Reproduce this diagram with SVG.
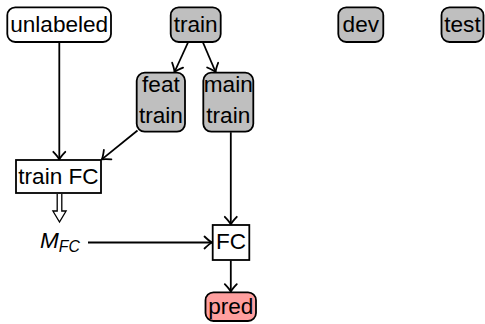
<svg xmlns="http://www.w3.org/2000/svg" width="485" height="324" viewBox="0 0 485 324">
  <style>
    .box { stroke: #000; stroke-width: 1.8; }
    .data { fill: #bfbfbf; }
    .plain { fill: #fff; }
    .result { fill: #ff9f9f; }
    .lbl { font-family: "Liberation Sans", Arial, Helvetica, sans-serif; font-size: 22.6px; fill: #000; text-anchor: middle; }
    .math { font-family: "Liberation Sans", Arial, Helvetica, sans-serif; font-style: italic; fill: #000; }
    .edge { stroke: #000; stroke-width: 1.8; fill: none; marker-end: url(#tip); }
  </style>
  <defs>
    <marker id="tip" markerUnits="userSpaceOnUse" markerWidth="14" markerHeight="14" viewBox="-8 -7 10 14" refX="0" refY="0" orient="auto" overflow="visible">
      <path d="M -7.5 -6 Q -2.6 -1.3 0 0 Q -2.6 1.3 -7.5 6" fill="none" stroke="#000" stroke-width="1.8" stroke-linecap="round" stroke-linejoin="round"/>
    </marker>
  </defs>

  <!-- connectors -->
  <g id="edges">
    <line class="edge" x1="59.3" y1="42.5" x2="59.3" y2="159.3"/>
    <line class="edge" x1="188" y1="42.5" x2="174.5" y2="72"/>
    <line class="edge" x1="203" y1="42.5" x2="215.6" y2="72"/>
    <line class="edge" x1="137.5" y1="130.5" x2="101.8" y2="159.4"/>
    <line class="edge" x1="88" y1="242.5" x2="212" y2="242.5"/>
    <line class="edge" x1="230.8" y1="132.2" x2="230.8" y2="224.3"/>
    <line class="edge" x1="230.8" y1="260.5" x2="230.8" y2="291.6"/>
    <!-- hollow double arrow: train FC yields M_FC -->
    <path d="M 57.2 193.9 V 211 H 52.9 L 59.5 222 L 66.1 211 H 61.8 V 193.9" fill="#fff" stroke="#000" stroke-width="1.3" stroke-linejoin="miter"/>
  </g>

  <!-- nodes -->
  <g id="unlabeled">
    <rect class="box plain" x="7.3" y="7.3" width="103.7" height="34.7" rx="8"/>
    <text class="lbl" x="59.2" y="32.3">unlabeled</text>
  </g>
  <g id="train">
    <rect class="box data" x="170.7" y="7.3" width="50" height="34.7" rx="8"/>
    <text class="lbl" x="195.7" y="32.3">train</text>
  </g>
  <g id="dev">
    <rect class="box data" x="338.3" y="7.3" width="45" height="34.7" rx="8"/>
    <text class="lbl" x="360.8" y="32.3">dev</text>
  </g>
  <g id="test">
    <rect class="box data" x="441.5" y="7.3" width="42" height="34.7" rx="8"/>
    <text class="lbl" x="462.5" y="32.3">test</text>
  </g>
  <g id="feat-train">
    <rect class="box data" x="136.7" y="72.7" width="48.3" height="59" rx="8"/>
    <text class="lbl" x="160.9" y="91.8">feat</text>
    <text class="lbl" x="160.9" y="123.3">train</text>
  </g>
  <g id="main-train">
    <rect class="box data" x="203.3" y="72.7" width="50" height="59" rx="8"/>
    <text class="lbl" x="228.3" y="91.8">main</text>
    <text class="lbl" x="228.3" y="123.3">train</text>
  </g>
  <g id="train-FC">
    <rect class="box plain" x="16" y="160" width="85" height="33"/>
    <text class="lbl" x="58.5" y="184.3">train FC</text>
  </g>
  <g id="M-FC">
    <text class="math" x="40" y="248" font-size="22.6">M<tspan font-size="15.8" dy="3.6">FC</tspan></text>
  </g>
  <g id="FC">
    <rect class="box plain" x="212.7" y="225" width="36.6" height="35"/>
    <text class="lbl" x="231" y="248.8">FC</text>
  </g>
  <g id="pred">
    <rect class="box result" x="205.5" y="292.3" width="50.5" height="28.7" rx="8"/>
    <text class="lbl" x="230.8" y="314.3">pred</text>
  </g>
</svg>
